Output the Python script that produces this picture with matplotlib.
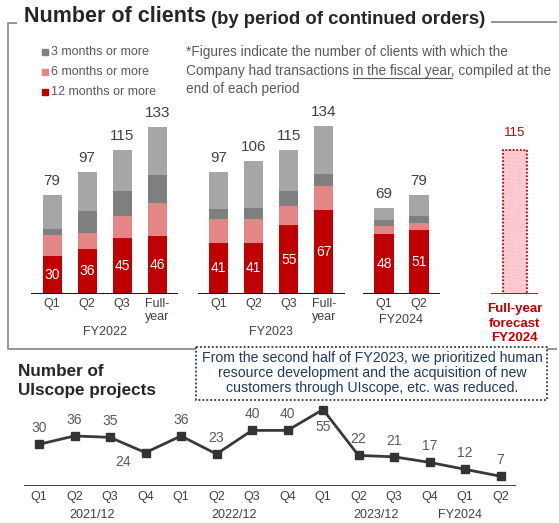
import numpy as np
import matplotlib
matplotlib.use("Agg")
import matplotlib.pyplot as plt
from matplotlib.patches import Rectangle

plt.rcParams['font.family'] = ['Liberation Sans', 'DejaVu Sans']

W, H = 559, 523

# ---- clients by period of continued orders ----
groups = ["FY2022", "FY2023", "FY2024"]
group_sizes = [4, 4, 2]
periods = ["Q1", "Q2", "Q3", "Full-\nyear",
           "Q1", "Q2", "Q3", "Full-\nyear",
           "Q1", "Q2"]
m12 = [30, 36, 45, 46, 41, 41, 55, 67, 48, 51]
m6 = [17, 13, 17, 27, 19, 19, 15, 19, 6, 6]
m3 = [5, 17, 20, 22, 8, 9, 12, 10, 5, 5]
totals = [79, 97, 115, 133, 97, 106, 115, 134, 69, 79]
forecast_total = 115
forecast_label = "Full-year\nforecast\nFY2024"

# ---- UIscope projects ----
quarters = ["Q1", "Q2", "Q3", "Q4"] * 3 + ["Q1", "Q2"]
ui_projects = [30, 36, 35, 24, 36, 23, 40, 40, 55, 22, 21, 17, 12, 7]
year_labels = ["2021/12", "2022/12", "2023/12", "FY2024"]
year_label_pos = [1.5, 5.5, 9.5, 11.85]

RED = '#C00000'
LRED = '#E58686'
DGREY = '#7F7F7F'
LGREY = '#A6A6A6'
TXT = '#404040'
NAVY = '#1F3864'


def fx(px):
    return px / W


def fy(py):
    return 1 - py / H


def pt(px):
    return px * 72 / 100


fig = plt.figure(figsize=(W / 100, H / 100), dpi=100)
fig.patch.set_facecolor('white')
renderer = fig.canvas.get_renderer()

# overlay in pixel coordinates for frame, legend and notes
ov = fig.add_axes([0, 0, 1, 1], zorder=0)
ov.set_xlim(0, W)
ov.set_ylim(H, 0)
ov.axis('off')

# title and frame
t1 = ov.text(24, 17, "Number of clients", fontsize=15.5, fontweight='bold',
             color='#262626', va='center', ha='left')
bb = t1.get_window_extent(renderer)
t2 = ov.text(bb.x1 + 5, 19, "(by period of continued orders)", fontsize=13.3,
             fontweight='bold', color='#262626', va='center', ha='left')
bb2 = t2.get_window_extent(renderer)
frame_kw = dict(color='#8C8C8C', lw=1.3, solid_capstyle='butt')
ov.plot([bb2.x1 + 6, 557], [22, 22], **frame_kw)
ov.plot([17, 8, 8, 557], [23, 23, 349, 349], **frame_kw)

# legend
leg_items = [("3 months or more", DGREY), ("6 months or more", LRED),
             ("12 months or more", RED)]
for i, (lab, col) in enumerate(leg_items):
    yy = 52 + i * 20
    ov.plot(45, yy, marker='s', ms=4.5, color=col, mec=col)
    ov.text(51, yy, lab, fontsize=9, color='#595959', va='center', ha='left')

# note on figures
note_fs = 9.8
note_kw = dict(fontsize=note_fs, color='#595959', va='center', ha='left')
ov.text(186, 52, "*Figures indicate the number of clients with which the", **note_kw)
ov.text(186, 71, "Company had transactions in the fiscal year, compiled at the", **note_kw)
ov.text(186, 89, "end of each period", **note_kw)


def text_width(s):
    tmp = ov.text(0, 0, s, fontsize=note_fs)
    w = tmp.get_window_extent(renderer).width
    tmp.remove()
    return w


u0 = 186 + text_width("Company had transactions x") - text_width("x")
u1 = u0 + text_width("in the fiscal year")
ov.plot([u0, u1], [78, 78], color='#595959', lw=0.8)

# ---- stacked bars ----
axb = fig.add_axes([0, fy(294), 1, 188 / H], zorder=1)
axb.set_xlim(0, W / 35)
axb.set_ylim(0, 150)
axb.axis('off')

group_start = [1.49, 6.25, 10.97]
x = []
for start, n in zip(group_start, group_sizes):
    x += [start + i for i in range(n)]
x = np.array(x)
x_fc = 14.71
bw = 0.55

m12a, m6a, m3a, tot = map(np.array, (m12, m6, m3, totals))
rest = tot - m12a - m6a - m3a
axb.bar(x, m12a, bw, color=RED)
axb.bar(x, m6a, bw, bottom=m12a, color=LRED)
axb.bar(x, m3a, bw, bottom=m12a + m6a, color=DGREY)
axb.bar(x, rest, bw, bottom=m12a + m6a + m3a, color=LGREY)

axb.bar(x_fc, forecast_total, 0.68, color='#FFC9CF', edgecolor=RED,
        linestyle=(0, (1, 1)), linewidth=1.3)
axb.hlines(0, x_fc - 0.67, x_fc + 0.67, color=RED, lw=1.3)
axb.annotate(str(forecast_total), (x_fc, forecast_total), xytext=(0, pt(17)),
             textcoords='offset points', ha='center', va='center',
             fontsize=9.5, color=RED)
axb.annotate(forecast_label, (x_fc, 0), xytext=(0, -pt(9)),
             textcoords='offset points', ha='center', va='top',
             fontsize=9.5, color=RED, fontweight='bold', linespacing=1.3,
             annotation_clip=False)

for xi, t, v in zip(x, totals, m12):
    axb.annotate(str(t), (xi, t), xytext=(0, pt(14)), textcoords='offset points',
                 ha='center', va='center', fontsize=11, color=TXT)
    axb.text(xi, v / 2, str(v), ha='center', va='center', fontsize=10,
             color='white')

for xi, p in zip(x, periods):
    axb.annotate(p, (xi, 0), xytext=(0, -pt(4)), textcoords='offset points',
                 ha='center', va='top', fontsize=9, color=TXT,
                 linespacing=1.15, annotation_clip=False)

idx = 0
for start, n, g in zip(group_start, group_sizes, groups):
    axb.hlines(0, start - 0.6, start + n - 1 + 0.6, color='black', lw=1.3)
    two_line = any('\n' in p for p in periods[idx:idx + n])
    off = 38 if two_line else 26
    axb.annotate(g, (start + (n - 1) / 2, 0), xytext=(0, -pt(off)),
                 textcoords='offset points', ha='center', va='center',
                 fontsize=9, color=TXT, annotation_clip=False)
    idx += n

# ---- explanatory box ----
box = Rectangle((196, 347), 351, 53, facecolor='white', edgecolor=NAVY,
                linestyle=(0, (1, 1.2)), lw=1.3, zorder=3)
ov.add_patch(box)
ov.text(372, 373, "From the second half of FY2023, we prioritized human\n"
        "resource development and the acquisition of new\n"
        "customers through UIscope, etc. was reduced.",
        fontsize=10.2, color=NAVY, ha='center', va='center', linespacing=1.12,
        zorder=4)

ov.text(18, 381, "Number of\nUIscope projects", fontsize=12.3,
        fontweight='bold', color='#262626', va='center', ha='left',
        linespacing=1.25)

# ---- UIscope line ----
sp = 35.5
axl = fig.add_axes([0, fy(486), 1, 83.4 / H], zorder=2)
axl.set_xlim(-39 / sp, (W - 39) / sp)
axl.set_ylim(0, 60)
axl.axis('off')

xl = np.arange(len(ui_projects))
axl.plot(xl, ui_projects, color='#3A3A3A', lw=2, marker='s', ms=6,
         mfc='#333333', mec='#333333')
axl.hlines(0, -0.42, len(xl) - 1 + 0.45, color='#404040', lw=1.4)

label_offsets = {0: (0, 16), 3: (-22, -9), 8: (0, -17)}
for i, v in enumerate(ui_projects):
    dx, dy = label_offsets.get(i, (0, 16))
    axl.annotate(str(v), (i, v), xytext=(pt(dx), pt(dy)),
                 textcoords='offset points', ha='center', va='center',
                 fontsize=10, color='#595959')

for i, q in enumerate(quarters):
    axl.annotate(q, (i, 0), xytext=(0, -pt(11)), textcoords='offset points',
                 ha='center', va='center', fontsize=9, color=TXT,
                 annotation_clip=False)
for pos, lab in zip(year_label_pos, year_labels):
    axl.annotate(lab, (pos, 0), xytext=(0, -pt(29)), textcoords='offset points',
                 ha='center', va='center', fontsize=9, color=TXT,
                 annotation_clip=False)

fig.savefig("out.png", dpi=100, facecolor='white')
